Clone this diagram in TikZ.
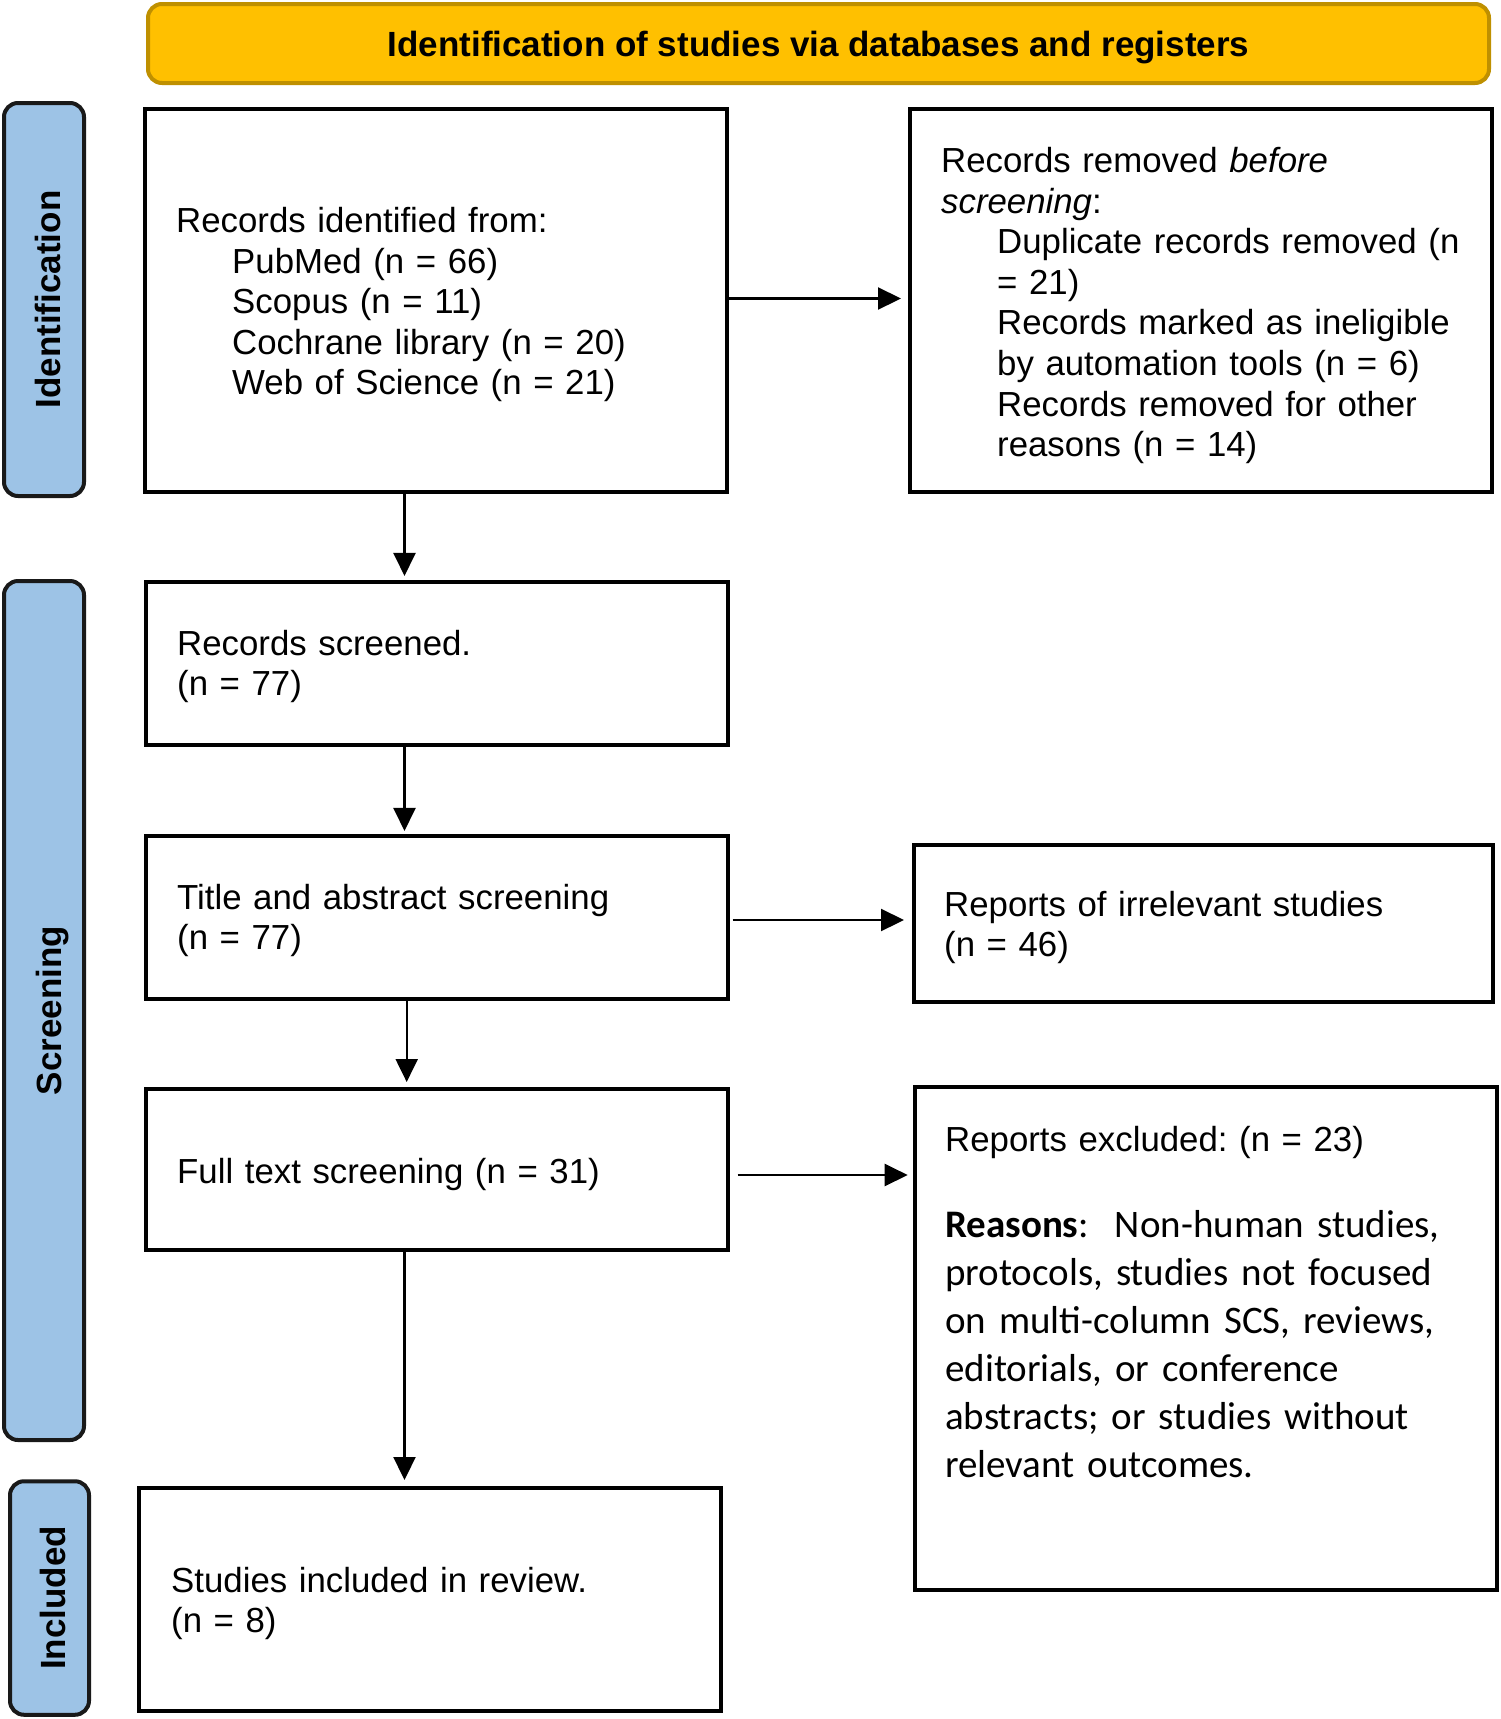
\documentclass[tikz,border=0pt]{standalone}
\usepackage{fontspec}
\setmainfont{Liberation Sans}
\newfontfamily\calib{Carlito}
\usetikzlibrary{arrows.meta,calc}
\definecolor{bannerfill}{HTML}{FFC000}
\definecolor{bannerdraw}{HTML}{BF9000}
\definecolor{labelfill}{HTML}{9DC3E6}
\frenchspacing
\begin{document}
\begin{tikzpicture}[x=1pt,y=-1pt,
  box/.style={draw=black, line width=4pt, rectangle, inner sep=0pt},
  stage/.style={draw=black!90, fill=labelfill, line width=4pt, rounded corners=14pt, inner sep=0pt},
  banner/.style={draw=bannerdraw, fill=bannerfill, line width=4pt, rounded corners=14pt, inner sep=0pt},
  txt/.style={anchor=base west, inner sep=0pt, align=left, text width=640pt, font=\fontsize{34.8}{40.6}\selectfont},
  reasontxt/.style={anchor=base west, inner sep=0pt, align=left, text width=640pt, font=\calib\fontsize{39}{48}\selectfont},
  stagetxt/.style={rotate=90, anchor=base, inner sep=0pt, font=\fontsize{35}{40}\selectfont\bfseries},
  arr/.style={line width=2.2pt, -{Triangle[length=23pt,width=22pt]}}]
\useasboundingbox (0,0) rectangle (1500,1719);

% banner
\node[banner, minimum width=1341pt, minimum height=79pt] (ban) at (818.5,43.5) {};
\node[anchor=base, inner sep=0pt, font=\fontsize{35}{40}\selectfont\bfseries] (bantxt) at (818.5,56.7) {Identification of studies via databases and registers};

% stage labels
\node[stage, minimum width=80pt, minimum height=393pt] (sid) at (44,299.5) {};
\node[stagetxt] (sidt) at (60,299.5) {Identification};
\node[stage, minimum width=80pt, minimum height=859pt] (ssc) at (44,1010.5) {};
\node[stagetxt] (ssct) at (61,1010.5) {Screening};
\node[stage, minimum width=79pt, minimum height=233.5pt] (sin) at (49.5,1598) {};
\node[stagetxt] (sint) at (65,1598) {Included};

% boxes
\node[box, minimum width=582pt, minimum height=383pt] (b1) at (436,300.5) {};
\node[box, minimum width=582pt, minimum height=383pt] (b2) at (1201,300.5) {};
\node[box, minimum width=582pt, minimum height=162.7pt] (b3) at (436.6,663.3) {};
\node[box, minimum width=582pt, minimum height=162.7pt] (b4) at (436.6,917.3) {};
\node[box, minimum width=579pt, minimum height=157pt] (b5) at (1203.5,923.5) {};
\node[box, minimum width=582pt, minimum height=161pt] (b6) at (436.6,1169.5) {};
\node[box, minimum width=582pt, minimum height=503.5pt] (b7) at (1205.7,1338.7) {};
\node[box, minimum width=582pt, minimum height=223pt] (b8) at (430,1599.5) {};

% texts
\node[txt] (t1) at (176,232.5) {Records identified from:\\
\hspace*{56pt}PubMed (n = 66)\\
\hspace*{56pt}Scopus (n = 11)\\
\hspace*{56pt}Cochrane library (n = 20)\\
\hspace*{56pt}Web of Science (n = 21)};
\node[txt] (t2) at (941,172.5) {Records removed \textit{before}\\
\textit{screening}:\\
\hspace*{56pt}Duplicate records removed (n\\
\hspace*{56pt}= 21)\\
\hspace*{56pt}Records marked as ineligible\\
\hspace*{56pt}by automation tools (n = 6)\\
\hspace*{56pt}Records removed for other\\
\hspace*{56pt}reasons (n = 14)};
\node[txt] (t3) at (177,655) {Records screened.\\(n = 77)};
\node[txt] (t4) at (177,909.3) {Title and abstract screening\\(n = 77)};
\node[txt] (t5) at (944,916) {Reports of irrelevant studies\\(n = 46)};
\node[txt] (t6) at (177,1183) {Full text screening (n = 31)};
\node[txt] (t7) at (945,1151.4) {Reports excluded: (n = 23)};
\node[reasontxt] (t7r) at (945,1237) {\textbf{Reasons}:\ \ Non-human studies,\\
protocols, studies not focused\\
on multi-column SCS, reviews,\\
editorials, or conference\\
abstracts; or studies without\\
relevant outcomes.};
\node[txt] (t8) at (171,1592) {Studies included in review.\\(n = 8)};

% connectors
\coordinate (vx) at (404.5,0);
\coordinate (vy) at (406.7,0);
\draw[arr, shorten >=7pt] ([yshift=2pt]b1.east) -- ([yshift=2pt]b1.east -| b2.west);
\draw[arr, shorten >=4pt] (vx |- b1.south) -- (vx |- b3.north);
\draw[arr, shorten >=3pt] (vx |- b3.south) -- (vx |- b4.north);
\draw[arr, shorten <=3pt, shorten >=8pt] ([yshift=-2.7pt]b4.east) -- ([yshift=-2.7pt]b4.east -| b5.west);
\draw[arr, shorten >=5pt] (vy |- b4.south) -- (vy |- b6.north);
\draw[arr, shorten <=8pt, shorten >=5pt] ([yshift=-5.5pt]b6.east) -- ([yshift=-5.5pt]b6.east -| b7.west);
\draw[arr, shorten >=6pt] (vx |- b6.south) -- (vx |- b8.north);
\end{tikzpicture}
\end{document}
